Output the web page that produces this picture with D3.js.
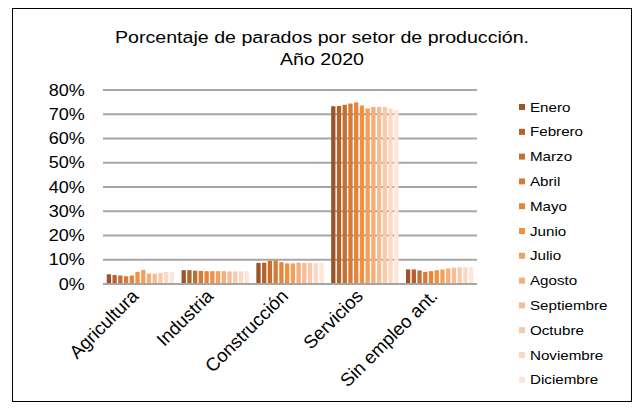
<!DOCTYPE html>
<html>
<head>
<meta charset="utf-8">
<script src="https://cdn.jsdelivr.net/npm/d3@7"></script>
<style>
  body { margin: 0; background: #fff; }
  text { font-family: "Liberation Sans", Arial, sans-serif; fill: #000; }
</style>
</head>
<body>
<div class="chart"></div>
<script>
const sectors = ["Agricultura", "Industria", "Construcción", "Servicios", "Sin empleo ant."];
const months = ["Enero", "Febrero", "Marzo", "Abril", "Mayo", "Junio", "Julio",
                "Agosto", "Septiembre", "Octubre", "Noviembre", "Diciembre"];
// porcentaje por mes para cada sector
const agricultura  = [4.0, 3.7, 3.5, 3.2, 3.5, 5.0, 5.8, 4.3, 4.2, 4.6, 5.0, 5.0];
const industria    = [5.7, 5.7, 5.5, 5.4, 5.3, 5.3, 5.3, 5.3, 5.2, 5.2, 5.2, 5.3];
const construccion = [8.7, 8.8, 9.6, 9.7, 9.0, 8.5, 8.5, 8.8, 8.7, 8.7, 8.6, 8.8];
const servicios    = [73.3, 73.4, 73.9, 74.4, 74.9, 73.6, 72.4, 73.0, 73.0, 73.0, 72.3, 71.7];
const sinEmpleo    = [6.0, 6.0, 5.6, 5.0, 5.3, 5.7, 6.0, 6.4, 6.7, 6.9, 6.9, 7.0];
const yTicks = [0, 10, 20, 30, 40, 50, 60, 70, 80];
const colors = ["#9c5526", "#b2622b", "#c56e31", "#d67a35", "#e4853a", "#f0913f",
                "#f3a05d", "#f5ae77", "#f7bc91", "#f9caa8", "#fbd8c2", "#fde6d8"];

const series = [agricultura, industria, construccion, servicios, sinEmpleo];

// el original tiene el texto algo ensanchado en horizontal
const sx = 1.14;

const svgWidth = 638, svgHeight = 409;
const margin = { top: 90, right: 161, bottom: 125, left: 103 };
const width = svgWidth - margin.left - margin.right;
const height = svgHeight - margin.top - margin.bottom;

const svg = d3.select(".chart").append("svg")
  .attr("width", svgWidth)
  .attr("height", svgHeight);

// marco exterior
svg.append("rect")
  .attr("x", 12.5).attr("y", 8.5)
  .attr("width", 619).attr("height", 393)
  .attr("fill", "none").attr("stroke", "#000").attr("stroke-width", 1);

// titulo
svg.append("text")
  .attr("transform", `translate(322,43) scale(${sx},1)`)
  .attr("text-anchor", "middle").attr("font-size", 17.2)
  .text("Porcentaje de parados por setor de producción.");
svg.append("text")
  .attr("transform", `translate(322,65) scale(${sx},1)`)
  .attr("text-anchor", "middle").attr("font-size", 17.2)
  .text("Año 2020");

const chartGroup = svg.append("g")
  .attr("transform", `translate(${margin.left}, ${margin.top})`);

const x0 = d3.scaleBand().domain(sectors).range([0, width]).paddingInner(0.1).paddingOuter(0.05);
const x1 = d3.scaleBand().domain(months).range([0, x0.bandwidth()]).paddingInner(0.25);
const y = d3.scaleLinear().domain([0, 80]).range([height, 0]);

// rejilla
chartGroup.append("g")
  .selectAll("line")
  .data(yTicks.filter(d => d > 0))
  .enter().append("line")
  .attr("x1", 0).attr("x2", width)
  .attr("y1", d => y(d)).attr("y2", d => y(d))
  .attr("stroke", "#a6a6a6").attr("stroke-width", 2);

// barras
const groups = chartGroup.selectAll(".sector")
  .data(sectors)
  .enter().append("g")
  .attr("transform", d => `translate(${x0(d)},0)`);

groups.selectAll("rect")
  .data((d, i) => series[i].map((v, j) => ({ month: months[j], value: v, j })))
  .enter().append("rect")
  .attr("x", d => x1(d.month))
  .attr("y", d => y(d.value))
  .attr("width", x1.bandwidth())
  .attr("height", d => height - y(d.value))
  .attr("fill", d => colors[d.j]);

// eje x
chartGroup.append("line")
  .attr("x1", 0).attr("x2", width)
  .attr("y1", height).attr("y2", height)
  .attr("stroke", "#a6a6a6").attr("stroke-width", 2);

// etiquetas eje y
const leftAxis = d3.axisLeft(y).tickValues(yTicks).tickFormat(d => d + "%").tickSize(0).tickPadding(16);
const yAxisG = chartGroup.append("g").call(leftAxis);
yAxisG.select(".domain").remove();
yAxisG.selectAll("text")
  .attr("font-size", 15.8)
  .attr("font-family", "Liberation Sans, Arial, sans-serif")
  .attr("fill", "#000")
  .attr("transform", `scale(${sx},1)`);

// etiquetas eje x
chartGroup.append("g")
  .selectAll("text")
  .data(sectors)
  .enter().append("text")
  .attr("transform", d => `translate(${x0(d) + x0.bandwidth() / 2 - 10},${height + 4}) rotate(-45)`)
  .attr("text-anchor", "end")
  .attr("dy", "0.7em")
  .attr("font-size", 18.5)
  .text(d => d);

// leyenda
const legend = svg.append("g").attr("transform", "translate(519, 107)");
const items = legend.selectAll("g")
  .data(months)
  .enter().append("g")
  .attr("transform", (d, i) => `translate(0, ${i * 24.8})`);
items.append("rect")
  .attr("x", 0).attr("y", -3)
  .attr("width", 6).attr("height", 6)
  .attr("fill", (d, i) => colors[i]);
items.append("text")
  .attr("transform", `translate(11,0) scale(${sx},1)`)
  .attr("dy", "0.35em")
  .attr("font-size", 13.3)
  .text(d => d);
</script>
</body>
</html>
